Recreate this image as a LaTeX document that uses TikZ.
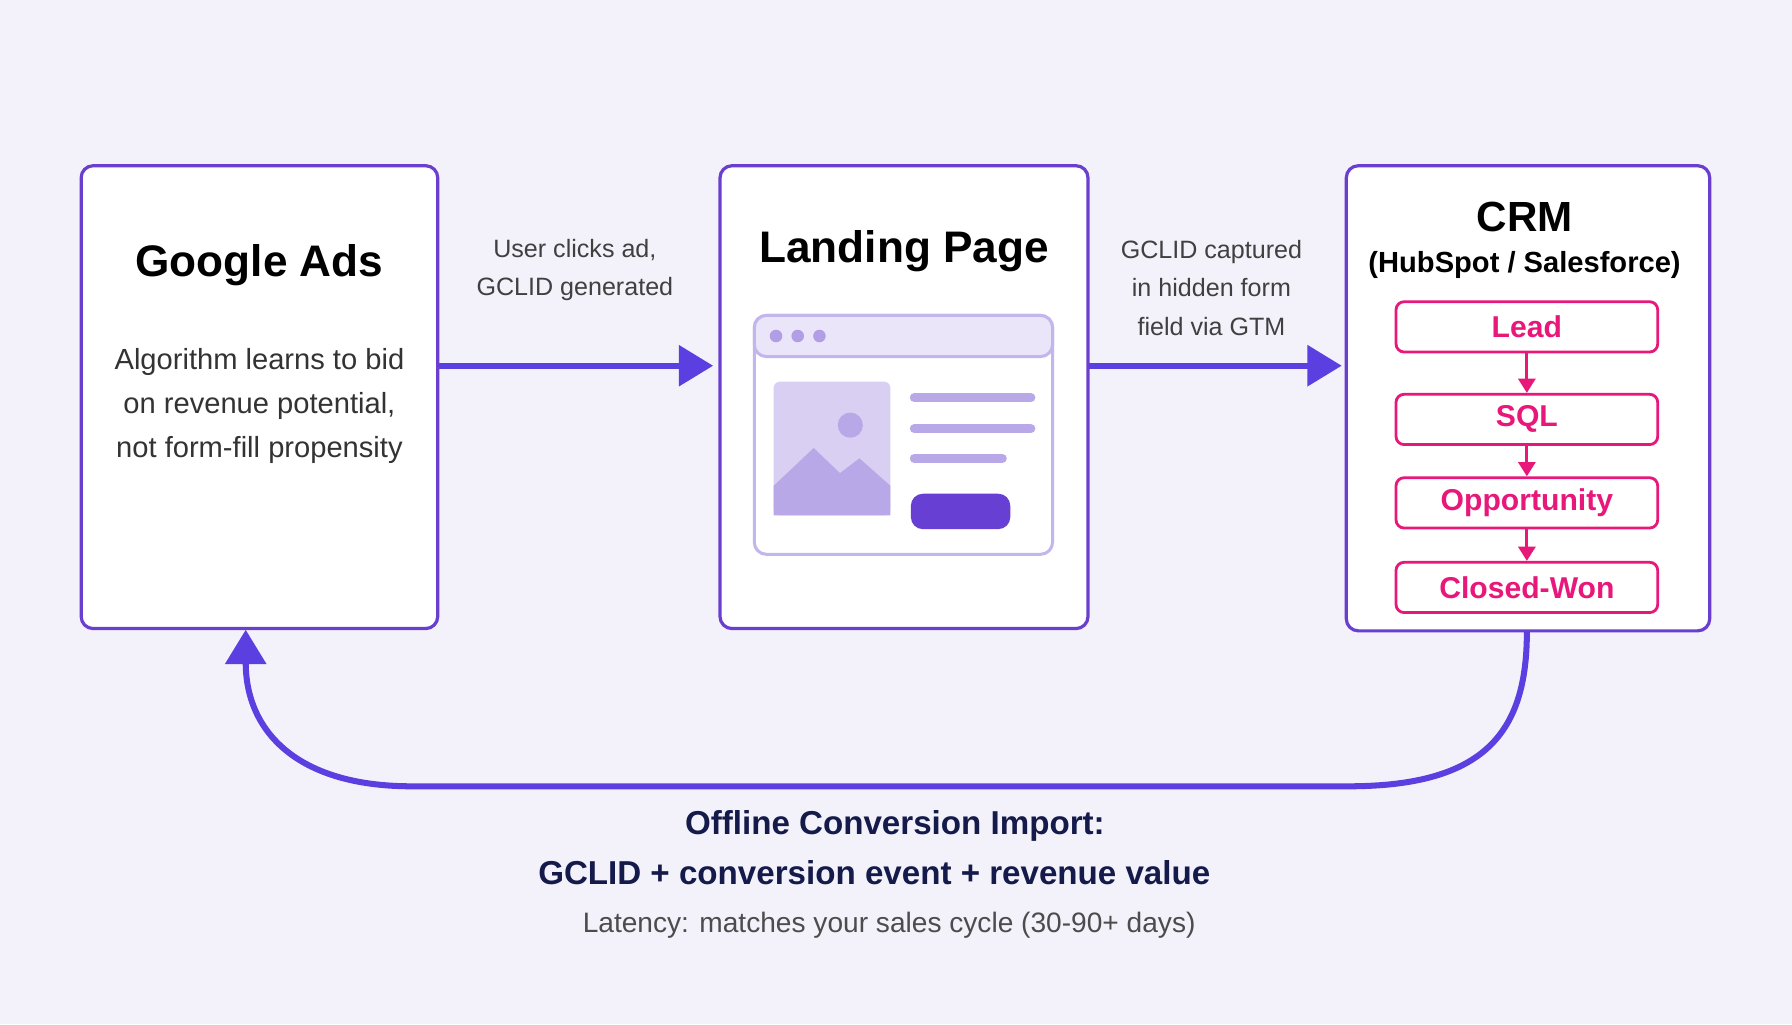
\documentclass[tikz,border=0pt]{standalone}
\usepackage{fontspec}
\setmainfont{Liberation Sans}
\usetikzlibrary{arrows.meta}
\definecolor{bgc}{HTML}{F3F2FB}
\definecolor{boxc}{HTML}{6A3FD0}
\definecolor{arrc}{HTML}{5B3FE0}
\definecolor{pinkc}{HTML}{E8177A}
\definecolor{navyc}{HTML}{141A4A}
\definecolor{mockc}{HTML}{C3B6EC}
\definecolor{mockf}{HTML}{B9A8E8}
\tikzset{
  panel/.style={draw=boxc,line width=1.6pt,fill=white,rounded corners=6pt},
  stage/.style={draw=pinkc,line width=1.4pt,fill=white,rounded corners=4pt,minimum width=4.58cm,minimum height=0.88cm,text=pinkc,font=\fontsize{15}{18}\selectfont\bfseries},
  flow/.style={-{Triangle[length=0.6cm,width=0.7cm]},draw=arrc,line width=3pt},
  stagearrow/.style={-{Triangle[length=0.25cm,width=0.3cm]},draw=pinkc,line width=1.4pt},
  note/.style={align=center,text=black!75,font=\fontsize{12.5}{19}\selectfont}
}
\begin{document}
\begin{tikzpicture}[x=0.02cm,y=-0.02cm]
  \fill[bgc] (0,0) rectangle (1568,896);
  % panels
  \draw[panel] (71,145) rectangle (383,550);
  \draw[panel] (630,145) rectangle (952,550);
  \draw[panel] (1178,145) rectangle (1496,552);
  \node[font=\fontsize{22}{26}\selectfont\bfseries] (ads) at (227,232) {Google Ads};
  \node[note,font=\fontsize{14.5}{22}\selectfont,text=black!80] (algo) at (227,355) {Algorithm learns to bid\\on revenue potential,\\not form-fill propensity};
  \node[font=\fontsize{22}{26}\selectfont\bfseries] (lp) at (791,220) {Landing Page};
  \node[font=\fontsize{21}{26}\selectfont\bfseries] (crm) at (1334,190) {CRM};
  \node[font=\fontsize{14.5}{18}\selectfont\bfseries] (crmsub) at (1334,232) {(HubSpot / Salesforce)};
  % browser mock-up
  \draw[mockc,line width=1.5pt,fill=white,rounded corners=6pt] (660,276) rectangle (921,485);
  \draw[mockc,line width=1.5pt,fill=mockc!35,rounded corners=6pt] (660,276) -- (660,312) -- (921,312) -- (921,276) -- cycle;
  \foreach \dx in {679,698,717}
    \fill[mockf!90!boxc] (\dx,294) circle (5.5);
  \fill[mockf!55,rounded corners=3pt] (677,334) rectangle (779,451);
  \fill[mockf] (677,425) -- (712,392) -- (735,414) -- (752,401) -- (779,425) -- (779,451) -- (677,451) -- cycle;
  \fill[mockf] (744,372) circle (11);
  \foreach \ly/\lx in {348/902,375/902,401/877}
    \draw[mockf,line width=4.5pt,line cap=round] (800,\ly) -- (\lx,\ly);
  \fill[boxc!80!arrc,rounded corners=6pt] (797,432) rectangle (884,463);
  % pipeline stages
  \node[stage] (lead) at (1336,286) {Lead};
  \node[stage] (sql) at (1336,367) {SQL};
  \node[stage] (opp) at (1336,440) {Opportunity};
  \node[stage] (won) at (1336,514) {Closed-Won};
  \draw[stagearrow] (lead) -- (sql);
  \draw[stagearrow] (sql) -- (opp);
  \draw[stagearrow] (opp) -- (won);
  % flow arrows
  \coordinate (a1) at (384,320);
  \coordinate (a2) at (624,320);
  \coordinate (b1) at (953,320);
  \coordinate (b2) at (1174,320);
  \draw[flow] (a1) -- (a2);
  \draw[flow] (b1) -- (b2);
  \node[note] (click) at (503,236) {User clicks ad,\\GCLID generated};
  \node[note] (capt) at (1060,252) {GCLID captured\\in hidden form\\field via GTM};
  % feedback loop
  \coordinate (c1) at (1336,553);
  \coordinate (c2) at (215,551);
  \draw[flow] (c1) .. controls (1336,640) and (1300,688) .. (1180,688)
    -- (360,688) .. controls (260,688) and (215,640) .. (c2);
  \node[text=navyc,font=\fontsize{16.5}{20}\selectfont\bfseries] (oci) at (783,723) {Offline Conversion Import:};
  \node[text=navyc,font=\fontsize{16.5}{20}\selectfont\bfseries] (payload) at (765,764) {GCLID + conversion event + revenue value};
  \node[text=black!70,font=\fontsize{14}{18}\selectfont] (lat) at (778,810) {Latency: matches your sales cycle (30-90+ days)};
\end{tikzpicture}
\end{document}
